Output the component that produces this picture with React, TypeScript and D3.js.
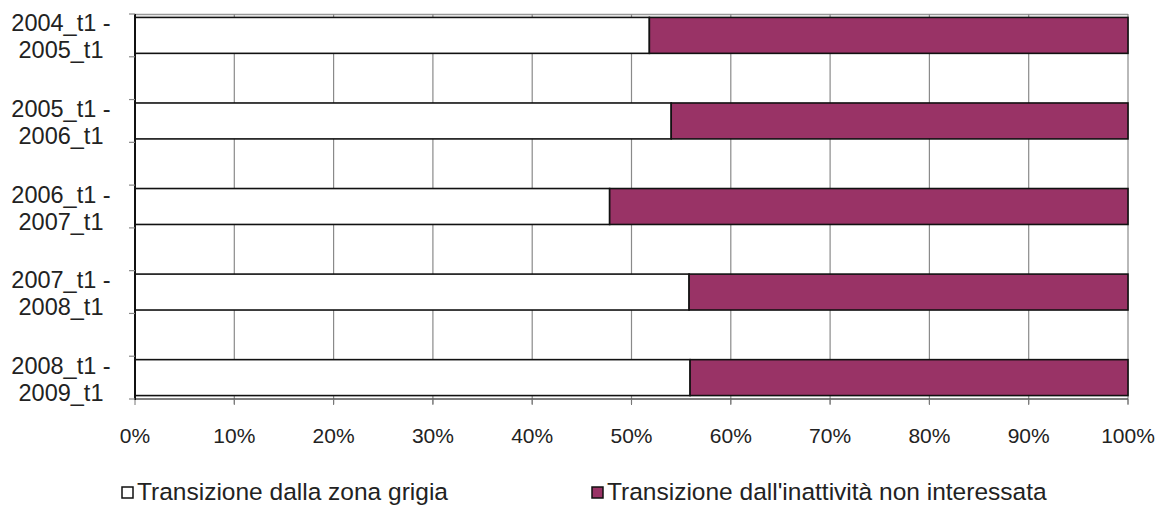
import React from "react";
import * as d3 from "d3";

const categories = ["2004_t1 - 2005_t1", "gap1", "2005_t1 - 2006_t1", "gap2", "2006_t1 - 2007_t1", "gap3", "2007_t1 - 2008_t1", "gap4", "2008_t1 - 2009_t1"];
const labelLine1 = ["2004_t1 -", "", "2005_t1 -", "", "2006_t1 -", "", "2007_t1 -", "", "2008_t1 -"];
const labelLine2 = ["2005_t1", "", "2006_t1", "", "2007_t1", "", "2008_t1", "", "2009_t1"];
const dataCategories = ["2004_t1 - 2005_t1", "2005_t1 - 2006_t1", "2006_t1 - 2007_t1", "2007_t1 - 2008_t1", "2008_t1 - 2009_t1"];
const zonaGrigia = [51.8, 54.0, 47.8, 55.8, 55.9];
const inattivita = [48.2, 46.0, 52.2, 44.2, 44.1];
const xTicks = [0, 10, 20, 30, 40, 50, 60, 70, 80, 90, 100];
const seriesNames = ["Transizione dalla zona grigia", "Transizione dall'inattività non interessata"];
const seriesColors = ["#ffffff", "#993366"];

export default function App() {
  const W = 1158, H = 512;
  const x = d3.scaleLinear().domain([0, 100]).range([135, 1128]);
  const y = d3.scaleBand().domain(categories).range([14, 399]).paddingInner(0.16).paddingOuter(0.08);
  const step = y.step();
  const font = "'Liberation Sans', Arial, sans-serif";
  const stacks = dataCategories.map((c, i) => {
    const a = zonaGrigia[i];
    const b = inattivita[i];
    return { c, segs: [[0, a], [a, a + b]] };
  });
  return (
    <svg width={W} height={H} style={{ position: "absolute", left: 0, top: 0, background: "#fff" }} fontFamily={font}>
      <rect x={0} y={0} width={W} height={H} fill="#fff" />
      <line x1={x(0)} x2={x(100)} y1={14.5} y2={14.5} stroke="#999" strokeWidth={1.5} />
      {xTicks.slice(1).map((t) => (
        <line key={"g" + t} x1={x(t)} x2={x(t)} y1={14} y2={404} stroke="#8a8a8a" strokeWidth={1.2} />
      ))}
      {stacks.map((s) =>
        s.segs.map((seg, j) => (
          <rect
            key={s.c + j}
            x={x(seg[0])}
            y={y(s.c)!}
            width={x(seg[1]) - x(seg[0])}
            height={y.bandwidth()}
            fill={seriesColors[j]}
            stroke="#111"
            strokeWidth={1.6}
          />
        ))
      )}
      <line x1={x(0)} x2={x(100)} y1={399} y2={399} stroke="#555" strokeWidth={1.5} />
      {xTicks.map((t) => (
        <line key={"xt" + t} x1={x(t)} x2={x(t)} y1={399} y2={405} stroke="#777" strokeWidth={1} />
      ))}
      <line x1={135} x2={135} y1={14} y2={400} stroke="#111" strokeWidth={2} />
      {d3.range(categories.length + 1).map((i) => {
        const yy = 14 + i * step;
        return <line key={"yt" + i} x1={129} x2={135} y1={yy} y2={yy} stroke="#888" strokeWidth={1.2} />;
      })}
      {categories.map((c, i) =>
        labelLine1[i] ? (
          <text key={"l" + c} textAnchor="middle" fontSize={23.5} fill="#222">
            <tspan x={61} y={y(c)! + y.bandwidth() / 2 - 4}>{labelLine1[i]}</tspan>
            <tspan x={61} y={y(c)! + y.bandwidth() / 2 + 23}>{labelLine2[i]}</tspan>
          </text>
        ) : null
      )}
      {xTicks.map((t) => (
        <text key={"xl" + t} x={x(t)} y={443} textAnchor="middle" fontSize={21} fill="#222">
          {t + "%"}
        </text>
      ))}
      {seriesNames.map((n, i) => {
        const lx = i === 0 ? 122 : 592;
        return (
          <g key={n}>
            <rect x={lx} y={487} width={11} height={11} fill={seriesColors[i]} stroke="#111" strokeWidth={1.5} />
            <text x={lx + 15} y={500} fontSize={24.5} fill="#222">{n}</text>
          </g>
        );
      })}
    </svg>
  );
}
